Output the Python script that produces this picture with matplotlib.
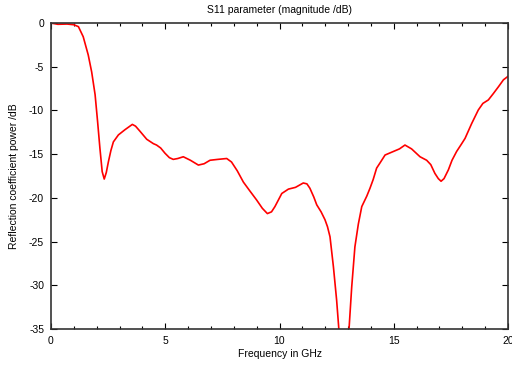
import numpy as np
import matplotlib
matplotlib.use("Agg")
import matplotlib.pyplot as plt
from matplotlib.ticker import MultipleLocator

# values (GHz, dB)
freq = [0.0, 0.3, 0.7, 1.0, 1.2, 1.41, 1.63, 1.78, 1.93, 2.04, 2.14, 2.24, 2.33,
        2.42, 2.51, 2.62, 2.73, 2.95, 3.24, 3.56, 3.7, 3.9,
        4.19, 4.48, 4.62, 4.8, 4.99, 5.18, 5.35, 5.55, 5.79, 6.1, 6.45, 6.7,
        6.96, 7.3, 7.69, 7.9, 8.15, 8.42, 8.7, 9.0, 9.25, 9.47, 9.65, 9.8,
        10.1, 10.39, 10.7, 11.04, 11.2, 11.33, 11.5, 11.63, 11.82, 11.99,
        12.1, 12.21, 12.36, 12.5, 12.6, 12.8, 13.04, 13.16, 13.3, 13.45,
        13.6, 13.82, 13.96, 14.1, 14.25, 14.4, 14.62, 14.98, 15.25, 15.49,
        15.78, 16.15, 16.44, 16.62, 16.8, 16.95, 17.07, 17.2, 17.39, 17.55,
        17.75, 17.95, 18.12, 18.41, 18.7, 18.9, 19.14, 19.35, 19.58, 19.8,
        20.0]
s11 = [0.0, -0.15, -0.12, -0.2, -0.42, -1.57, -3.66, -5.6, -8.2, -11.3, -14.3, -17.0, -17.85,
       -17.1, -15.9, -14.6, -13.6, -12.8, -12.2, -11.6, -11.8, -12.4,
       -13.3, -13.8, -13.96, -14.3, -14.9, -15.4, -15.6, -15.5, -15.3, -15.7, -16.25, -16.1,
       -15.7, -15.6, -15.5, -15.9, -16.9, -18.2, -19.2, -20.25, -21.2, -21.8, -21.6, -21.0,
       -19.5, -19.0, -18.8, -18.3, -18.4, -18.9, -19.9, -20.8, -21.6, -22.5,
       -23.3, -24.45, -27.9, -31.7, -35.1, -40.0, -35.1, -30.2, -25.6, -23.0,
       -21.0, -19.8, -18.9, -17.9, -16.6, -16.0, -15.1, -14.7, -14.4, -13.96,
       -14.4, -15.3, -15.7, -16.2, -17.2, -17.8, -18.1, -17.8, -16.8, -15.7,
       -14.7, -13.9, -13.2, -11.5, -9.95, -9.2, -8.8, -8.1, -7.3, -6.5,
       -6.1]

plt.rcParams["font.family"] = ["Liberation Sans", "DejaVu Sans"]
plt.rcParams["axes.unicode_minus"] = False

fig = plt.figure(figsize=(5.12, 3.69), dpi=100)
ax = fig.add_axes([0.0996, 0.1084, 0.8926, 0.8293])
ax.plot(freq, s11, color="#ff0000", lw=1.2)

ax.set_xlim(0, 20)
ax.set_ylim(-35, 0)
ax.xaxis.set_major_locator(MultipleLocator(5))
ax.xaxis.set_minor_locator(MultipleLocator(1))
ax.yaxis.set_major_locator(MultipleLocator(5))
ax.tick_params(which="both", direction="in", top=True, right=True, labelsize=7.5, width=0.8)
ax.tick_params(which="major", length=4, pad=5)
ax.tick_params(which="minor", length=2)
for sp in ax.spines.values():
    sp.set_linewidth(1.2)
    sp.set_color("#333333")

ax.set_title("S11 parameter (magnitude /dB)", fontsize=7.5, pad=7)
ax.set_xlabel("Frequency in GHz", fontsize=7.5, labelpad=2)
ax.set_ylabel("Reflection coefficient power /dB", fontsize=7.5, labelpad=7)

fig.savefig("out.png", dpi=100)
